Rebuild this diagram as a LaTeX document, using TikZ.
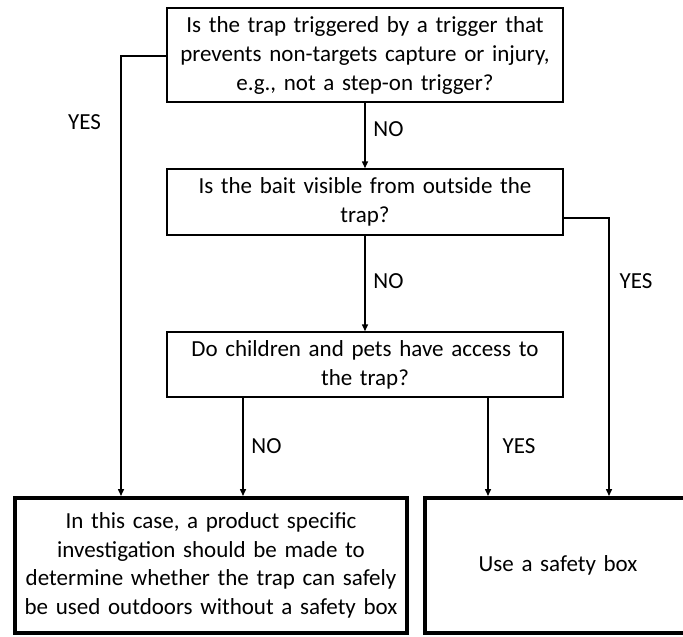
\documentclass[tikz,border=0pt]{standalone}
\usepackage{fontspec}
\setmainfont{Carlito}
\usetikzlibrary{arrows.meta}
\begin{document}
\begin{tikzpicture}[x=1pt,y=-1pt,
  qbox/.style={draw=black,line width=1.5pt,inner sep=0pt,align=center,
    text width=390pt,minimum width=396pt,font=\fontsize{23pt}{29pt}\selectfont,text=black},
  endbox/.style={draw=black,line width=4pt,inner sep=0pt,align=center,
    font=\fontsize{23pt}{28.5pt}\selectfont,text=black},
  conn/.style={line width=1.5pt,-{Triangle[length=7pt,width=6pt]}},
  lbl/.style={font=\fontsize{23pt}{24pt}\selectfont,text=black,inner sep=0pt}]
\useasboundingbox (0,0) rectangle (683,637);
\node[qbox,minimum height=94pt] (q1) at (365,55)
  {Is the trap triggered by a trigger that\\prevents non-targets capture or injury,\\e.g., not a step-on trigger?};
\node[qbox,minimum height=66pt] (q2) at (365,202)
  {Is the bait visible from outside the\\trap?};
\node[qbox,minimum height=65pt] (q3) at (365,364.5)
  {Do children and pets have access to\\the trap?};
\node[endbox,minimum width=392pt,minimum height=135pt,text width=392pt] (e1) at (211,565.5)
  {In this case, a product specific\\investigation should be made to\\determine whether the trap can safely\\be used outdoors without a safety box};
\node[endbox,minimum width=266pt,minimum height=135pt,text width=260pt] (e2) at (558,565.5)
  {Use a safety box};
\coordinate (c1) at (121,56);
\coordinate (c2) at (609,218);
\draw[conn] (q1.west |- c1) -- (c1) -- (c1 |- e1.north);
\draw[conn] (q1.south) -- (q2.north);
\draw[conn] (q2.east |- c2) -- (c2) -- (c2 |- e2.north);
\draw[conn] (q2.south) -- (q3.north);
\draw[conn] (q3.south -| 243,0) -- (243,0 |- e1.north);
\draw[conn] (q3.south -| 488,0) -- (488,0 |- e2.north);
\node[lbl] (l1) at (84.5,122) {YES};
\node[lbl] (l2) at (388.5,129) {NO};
\node[lbl] (l3) at (388.5,281) {NO};
\node[lbl] (l4) at (636,281) {YES};
\node[lbl] (l5) at (266.5,446) {NO};
\node[lbl] (l6) at (519,446) {YES};
\end{tikzpicture}
\end{document}
